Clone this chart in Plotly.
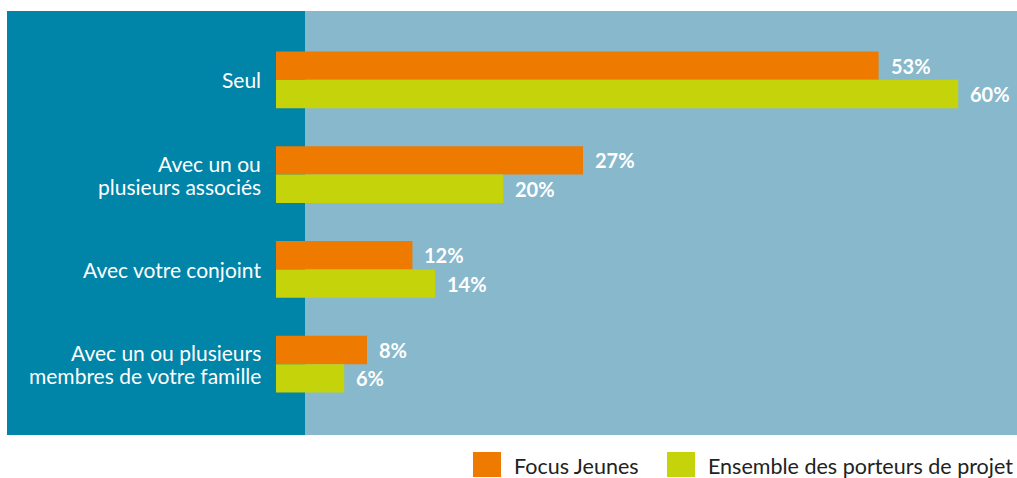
import plotly.graph_objects as go

categories = ["Seul", "Avec un ou<br>plusieurs associés", "Avec votre conjoint",
              "Avec un ou plusieurs<br>membres de votre famille"]
focus_jeunes = [53, 27, 12, 8]
ensemble = [60, 20, 14, 6]
series_names = ["Focus Jeunes", "Ensemble des porteurs de projet"]

ORANGE = "#EE7A00"
LIME = "#C5D30B"
DARK = "#0084A8"
LIGHT = "#87B8CC"
FONT = "Lato, 'Open Sans', sans-serif"

W, H = 1017, 478
L, R, T = 276, 0, 11
B = H - 435
pw = W - L - R
ph = H - T - B

def px_x(p):
    return (p - L) / pw

def px_y(p):
    return (H - B - p) / ph

ypos = list(range(len(categories)))

fig = go.Figure()
fig.add_trace(go.Bar(y=ypos, x=focus_jeunes, orientation="h", name=series_names[0],
                     marker=dict(color=ORANGE, line=dict(width=0))))
fig.add_trace(go.Bar(y=ypos, x=ensemble, orientation="h", name=series_names[1],
                     marker=dict(color=LIME, line=dict(width=0))))

annotations = []
for i, (a, b) in enumerate(zip(focus_jeunes, ensemble)):
    annotations.append(dict(x=a, y=i - 0.15, xref="x", yref="y", text=f"<b>{a}%</b>",
                            showarrow=False, xanchor="left", xshift=10,
                            font=dict(color="white", size=20, family=FONT)))
    annotations.append(dict(x=b, y=i + 0.15, xref="x", yref="y", text=f"<b>{b}%</b>",
                            showarrow=False, xanchor="left", xshift=10,
                            font=dict(color="white", size=20, family=FONT)))

# category labels (one annotation per line for tight line spacing)
LINE_H = 23
for i, cat in enumerate(categories):
    lines = cat.split("<br>")
    n = len(lines)
    for j, line in enumerate(lines):
        annotations.append(dict(x=0, y=i, xref="paper", yref="y", text=line,
                                showarrow=False, xanchor="right", yanchor="middle",
                                xshift=-13, yshift=((n - 1) / 2 - j) * LINE_H,
                                font=dict(color="white", size=21, family=FONT)))

# custom legend
legend_items = [(ORANGE, series_names[0], 473), (LIME, series_names[1], 667)]
shapes = [
    dict(type="rect", xref="paper", yref="paper", x0=px_x(7), x1=px_x(305),
         y0=0, y1=1, fillcolor=DARK, line=dict(width=0), layer="below"),
    dict(type="rect", xref="paper", yref="paper", x0=px_x(305), x1=px_x(1017),
         y0=0, y1=1, fillcolor=LIGHT, line=dict(width=0), layer="below"),
]
for color, name, x0 in legend_items:
    shapes.append(dict(type="rect", xref="paper", yref="paper", x0=px_x(x0), x1=px_x(x0 + 28),
                       y0=px_y(477), y1=px_y(452), fillcolor=color, line=dict(width=0)))
    annotations.append(dict(x=px_x(x0 + 39), y=px_y(466), xref="paper", yref="paper",
                            text=name, showarrow=False, xanchor="left", yanchor="middle",
                            font=dict(color="#222222", size=21.5, family=FONT)))

fig.update_layout(
    width=W, height=H,
    margin=dict(l=L, r=R, t=T, b=B, pad=0),
    paper_bgcolor="white",
    plot_bgcolor="rgba(0,0,0,0)",
    barmode="group", bargap=0.4, bargroupgap=0,
    showlegend=False,
    shapes=shapes,
    annotations=annotations,
    xaxis=dict(range=[0, pw / 11.37], showgrid=False, zeroline=False,
               showticklabels=False, fixedrange=True),
    yaxis=dict(range=[3 + 71 / 95, -69 / 95], tickvals=ypos, showticklabels=False,
               showgrid=False, zeroline=False, ticks=""),
    font=dict(family=FONT),
)

fig.write_html("out.html", config={"displayModeBar": False},
               post_script="document.body.style.margin='0';document.body.style.overflow='hidden';")
